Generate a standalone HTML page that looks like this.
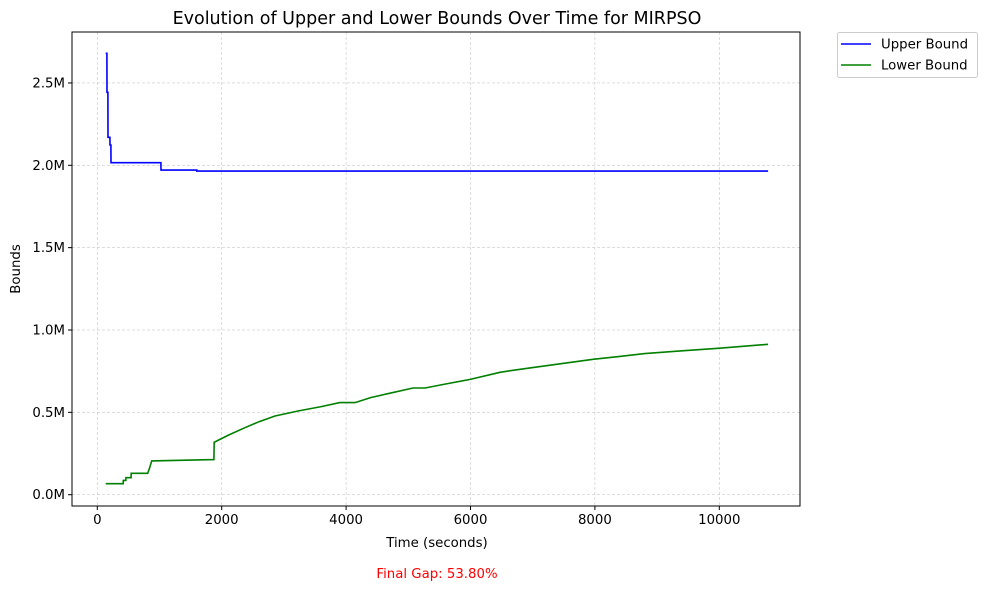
<!DOCTYPE html>
<html><head><meta charset="utf-8"><style>
body{margin:0;background:#fff;font-family:"DejaVu Sans","Liberation Sans",sans-serif;}
svg text{font-family:"DejaVu Sans","Liberation Sans",sans-serif;}
</style></head><body>
<svg id="chart" width="987" height="591" xmlns="http://www.w3.org/2000/svg">
<rect width="987" height="591" fill="#fff"/>
<text x="437" y="24" font-size="17.5" text-anchor="middle">Evolution of Upper and Lower Bounds Over Time for MIRPSO</text>
<g id="grid"></g>
<g id="series"></g>
<rect x="72" y="32" width="728" height="474" fill="none" stroke="#000" stroke-width="1"/>
<g id="ticks"></g>
<text x="437" y="547" font-size="13.3" text-anchor="middle">Time (seconds)</text>
<text x="20" y="269" font-size="13.3" text-anchor="middle" transform="rotate(-90 20 269)">Bounds</text>
<text x="437" y="578" font-size="13.3" fill="red" text-anchor="middle">Final Gap: 53.80%</text>
<g>
<rect x="837.5" y="32.5" width="140" height="45" rx="2" fill="#fff" stroke="#ccc"/>
<line x1="841" y1="44" x2="871" y2="44" stroke="blue" stroke-width="1.6"/>
<text x="881" y="48.5" font-size="13.3">Upper Bound</text>
<line x1="841" y1="65" x2="871" y2="65" stroke="green" stroke-width="1.6"/>
<text x="881" y="69.5" font-size="13.3">Lower Bound</text>
</g>
</svg>
<script>
const xTicks=[0,2000,4000,6000,8000,10000];
const yTicks=[0,0.5,1.0,1.5,2.0,2.5];
const yTickLabels=["0.0M","0.5M","1.0M","1.5M","2.0M","2.5M"];
const upperT=[135,155,156,171,172,203,204,219,220,1023,1024,1599,1600,10785];
const upperV=[2.68,2.68,2.443,2.443,2.17,2.17,2.123,2.123,2.016,2.016,1.971,1.971,1.965,1.965];
const lowerT=[135,417,418,459,460,544,545,810,840,875,1875,1880,2100,2350,2600,2857,3227,3600,3900,4145,4400,4706,5075,5270,5600,5995,6475,6640,7000,7500,7970,8400,8800,9400,9980,10785];
const lowerV=[0.067,0.067,0.087,0.087,0.103,0.103,0.13,0.13,0.16,0.205,0.213,0.318,0.36,0.403,0.443,0.478,0.508,0.535,0.559,0.559,0.59,0.616,0.648,0.648,0.672,0.70,0.743,0.753,0.772,0.798,0.822,0.840,0.857,0.874,0.889,0.913];
const X=t=>97.3+t*0.0622;
const Y=v=>494.7-v*164.7;
const NS="http://www.w3.org/2000/svg";
const grid=document.getElementById('grid'),ticks=document.getElementById('ticks'),series=document.getElementById('series');
function mk(tag,attrs,parent){const e=document.createElementNS(NS,tag);for(const k in attrs)e.setAttribute(k,attrs[k]);parent.appendChild(e);return e;}
xTicks.forEach(t=>{
 const x=X(t);
 const g=mk('line',{x1:x,x2:x,y1:32,y2:506,stroke:'#bbb','stroke-width':0.5,'stroke-dasharray':'3,2'},grid);
 
 
 mk('line',{x1:x,x2:x,y1:506,y2:510,stroke:'#000'},ticks);
 const tx=mk('text',{x:x,y:524,'font-size':13.3,'text-anchor':'middle'},ticks);
 tx.textContent=t;
 
 
});
yTicks.forEach((v,i)=>{
 const y=Y(v);
 const g=mk('line',{x1:72,x2:800,y1:y,y2:y,stroke:'#bbb','stroke-width':0.5,'stroke-dasharray':'3,2'},grid);
 
 
 mk('line',{x1:68,x2:72,y1:y,y2:y,stroke:'#000'},ticks);
 const tx=mk('text',{x:65,y:y+4.5,'font-size':13.3,'text-anchor':'end'},ticks);
 tx.textContent=yTickLabels[i];
 
 
});
function pts(T,V){return T.map((t,i)=>X(t).toFixed(1)+','+Y(V[i]).toFixed(1)).join(' ');}
const up=mk('polyline',{points:pts(upperT,upperV),fill:'none',stroke:'blue','stroke-width':1.6},series);


const lo=mk('polyline',{points:pts(lowerT,lowerV),fill:'none',stroke:'green','stroke-width':1.6},series);


</script>
</body></html>
